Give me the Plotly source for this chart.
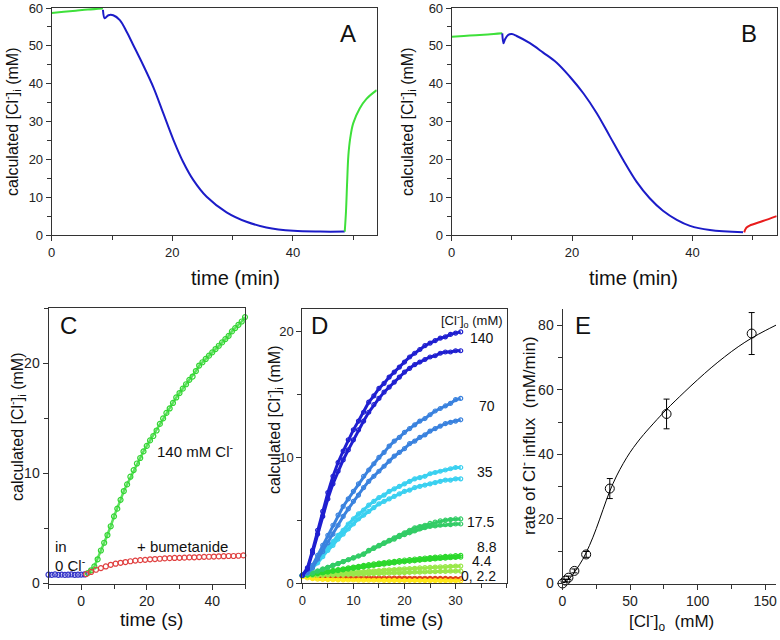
import plotly.graph_objects as go

W, H = 780, 640
FONT = "Liberation Sans, Arial, sans-serif"

# ---------------- Panel A ----------------
a_green1_t = [0, 2, 4, 6, 8.5]
a_green1_y = [58.7, 59.0, 59.3, 59.6, 59.9]
a_blue_t = [8.5, 8.8, 9.4, 10.2, 11.3, 12.5, 13.5, 15.2, 16.9, 18.5, 20.2, 21.8, 23.5, 25.7, 29.0, 32.3, 35.6, 40.1, 44.5, 48.6]
a_blue_y = [59.5, 57.3, 58.1, 58.1, 56.8, 53.5, 50.3, 44.8, 38.9, 32.2, 25.1, 19.3, 14.5, 10.1, 6.0, 3.5, 2.0, 1.1, 0.9, 0.9]
a_green2_t = [48.6, 48.8, 49.0, 49.2, 49.5, 50.0, 51.1, 52.2, 53.9]
a_green2_y = [0.9, 6.0, 14.0, 21.0, 25.5, 29.5, 33.5, 36.0, 38.3]

# ---------------- Panel B ----------------
b_green_t = [0, 2, 4, 6, 8.4]
b_green_y = [52.4, 52.6, 52.8, 53.0, 53.3]
b_blue_t = [8.4, 8.6, 8.85, 9.4, 10.0, 10.8, 13.0, 15.2, 17.4, 19.6, 21.9, 24.1, 26.3, 28.5, 30.7, 32.9, 35.1, 37.4, 39.6, 42.9, 48.4]
b_blue_y = [53.3, 50.7, 51.7, 52.9, 53.1, 52.6, 50.7, 48.2, 45.6, 41.9, 37.4, 32.2, 26.0, 19.8, 14.1, 9.7, 6.4, 4.0, 2.4, 1.3, 0.7]
b_red_t = [48.6, 48.8, 49.0, 49.5, 51.7, 54.0]
b_red_y = [0.7, 1.5, 2.0, 2.5, 3.7, 5.0]

# ---------------- Panel C ----------------
c_blue_t = [-10, -9, -8, -7, -6, -5, -4, -3, -2, -1, 0, 1]
c_blue_y = [0.8, 0.78, 0.82, 0.79, 0.81, 0.78, 0.8, 0.82, 0.79, 0.8, 0.81, 0.82]
c_red_t = [1.5, 3, 4.5, 6, 7.5, 9, 10.5, 12, 13.5, 15, 16.5, 18, 19.5, 21, 22.5, 24, 25.5, 27, 28.5,
           30, 31.5, 33, 34.5, 36, 37.5, 39, 40.5, 42, 43.5, 45, 46.5, 48, 49.5]
c_red_y = [0.85, 1.05, 1.25, 1.4, 1.55, 1.7, 1.8, 1.88, 1.95, 2.02, 2.08, 2.12, 2.15, 2.2, 2.22, 2.25, 2.28,
           2.3, 2.32, 2.33, 2.35, 2.37, 2.38, 2.4, 2.42, 2.43, 2.45, 2.46, 2.48, 2.5, 2.5, 2.52, 2.55]
c_green_t = list(range(2, 51))
c_green_y = [0.95, 1.2, 1.55, 2.2, 3.0, 3.7, 4.4, 5.2, 6.1, 6.8, 7.6, 8.4, 9.0, 9.7, 10.3, 10.9, 11.4, 12.0,
             12.5, 13.0, 13.4, 13.9, 14.5, 15.0, 15.5, 15.9, 16.4, 16.9, 17.3, 17.7, 18.1, 18.5, 18.8, 19.3,
             19.8, 20.1, 20.4, 20.7, 21.0, 21.3, 21.6, 21.9, 22.2, 22.5, 22.9, 23.2, 23.5, 23.8, 24.2]

# ---------------- Panel D ----------------
d_t = list(range(0, 32))
d_140a = [0.6, 1.2, 2.6, 4.2, 5.7, 7.2, 8.5, 9.6, 10.5, 11.4, 12.2, 12.9, 13.6, 14.4, 14.9, 15.5, 15.9, 16.4,
          16.8, 17.2, 17.6, 18.0, 18.3, 18.6, 18.9, 19.1, 19.3, 19.5, 19.6, 19.8, 19.9, 20.0]
d_140b = [0.6, 1.1, 2.4, 3.9, 5.3, 6.7, 7.9, 8.9, 9.8, 10.6, 11.4, 12.2, 12.9, 13.6, 14.2, 14.7, 15.2, 15.6,
          16.0, 16.4, 16.8, 17.1, 17.4, 17.6, 17.8, 18.0, 18.1, 18.3, 18.4, 18.4, 18.5, 18.5]
d_70a = [0.6, 0.9, 1.4, 2.2, 3.0, 3.8, 4.6, 5.4, 6.1, 6.7, 7.3, 7.9, 8.5, 9.0, 9.5, 10.0, 10.4, 10.9, 11.3,
         11.6, 12.0, 12.3, 12.6, 12.9, 13.1, 13.4, 13.7, 13.9, 14.1, 14.3, 14.6, 14.7]
d_70b = [0.6, 0.8, 1.2, 1.9, 2.5, 3.2, 3.9, 4.6, 5.3, 5.9, 6.5, 7.0, 7.6, 8.1, 8.5, 8.9, 9.3, 9.7, 10.1,
         10.4, 10.7, 11.1, 11.3, 11.6, 11.8, 12.1, 12.3, 12.5, 12.7, 12.8, 12.9, 13.0]
d_35a = [0.6, 0.9, 1.3, 1.8, 2.3, 2.8, 3.3, 3.8, 4.2, 4.7, 5.1, 5.5, 5.8, 6.2, 6.5, 6.8, 7.0, 7.3, 7.5,
         7.7, 7.9, 8.1, 8.3, 8.4, 8.5, 8.7, 8.8, 8.9, 9.0, 9.1, 9.2, 9.2]
d_35b = [0.6, 0.8, 1.2, 1.6, 2.1, 2.6, 3.0, 3.5, 3.9, 4.3, 4.7, 5.1, 5.4, 5.7, 6.0, 6.3, 6.5, 6.7, 6.9,
         7.1, 7.3, 7.4, 7.6, 7.7, 7.8, 7.9, 8.0, 8.1, 8.2, 8.2, 8.3, 8.3]
d_17a = [0.6, 0.7, 0.8, 0.95, 1.1, 1.25, 1.4, 1.55, 1.7, 1.85, 2.0, 2.15, 2.3, 2.6, 2.8, 3.0, 3.2, 3.4,
         3.6, 3.8, 4.0, 4.2, 4.4, 4.5, 4.6, 4.75, 4.85, 4.95, 5.0, 5.05, 5.1, 5.1]
d_17b = [0.6, 0.7, 0.8, 0.95, 1.1, 1.25, 1.4, 1.55, 1.7, 1.85, 2.0, 2.15, 2.3, 2.55, 2.75, 2.95, 3.15, 3.35,
         3.5, 3.7, 3.85, 4.0, 4.15, 4.3, 4.4, 4.5, 4.55, 4.6, 4.65, 4.65, 4.7, 4.7]
d_88a = [0.6, 0.65, 0.7, 0.78, 0.85, 0.92, 1.0, 1.07, 1.13, 1.2, 1.27, 1.33, 1.4, 1.46, 1.52, 1.58, 1.63,
         1.68, 1.73, 1.78, 1.83, 1.87, 1.91, 1.95, 1.99, 2.03, 2.06, 2.09, 2.12, 2.15, 2.18, 2.2]
d_88b = [0.6, 0.64, 0.68, 0.74, 0.8, 0.86, 0.93, 0.99, 1.05, 1.11, 1.17, 1.23, 1.29, 1.35, 1.41, 1.46, 1.51,
         1.56, 1.61, 1.65, 1.69, 1.73, 1.77, 1.81, 1.85, 1.88, 1.92, 1.95, 1.98, 2.01, 2.03, 2.05]
d_44a = [0.6, 0.62, 0.64, 0.67, 0.7, 0.72, 0.75, 0.78, 0.8, 0.83, 0.86, 0.88, 0.91, 0.94, 0.97, 0.99, 1.02,
         1.05, 1.07, 1.1, 1.12, 1.15, 1.17, 1.2, 1.22, 1.24, 1.26, 1.28, 1.3, 1.32, 1.34, 1.35]
d_44b = [0.6, 0.6, 0.61, 0.62, 0.63, 0.64, 0.65, 0.66, 0.67, 0.68, 0.69, 0.7, 0.71, 0.72, 0.74, 0.75, 0.77,
         0.78, 0.8, 0.81, 0.83, 0.84, 0.86, 0.87, 0.88, 0.9, 0.91, 0.92, 0.93, 0.94, 0.95, 0.95]
d_22 = [0.5, 0.4, 0.35, 0.3, 0.28, 0.27, 0.26, 0.25, 0.25, 0.24, 0.24, 0.23, 0.23, 0.22, 0.22, 0.22, 0.21,
        0.21, 0.21, 0.2, 0.2, 0.2, 0.2, 0.2, 0.19, 0.19, 0.19, 0.19, 0.19, 0.18, 0.18, 0.18]
d_0 = [0.55, 0.5, 0.48, 0.46, 0.45, 0.44, 0.44, 0.43, 0.43, 0.42, 0.42, 0.42, 0.41, 0.41, 0.4, 0.4, 0.4,
       0.4, 0.39, 0.39, 0.39, 0.38, 0.38, 0.38, 0.38, 0.37, 0.37, 0.37, 0.37, 0.36, 0.36, 0.36]
d_labels = ["140", "70", "35", "17.5", "8.8", "4.4", "0, 2.2"]

# ---------------- Panel E ----------------
e_x = [0, 2.2, 4.4, 8.8, 17.5, 35, 77, 140]
e_y = [0.0, 0.9, 1.8, 3.9, 9.0, 29.4, 52.5, 77.4]
e_err = [0.3, 0.4, 0.5, 0.6, 0.9, 3.1, 4.6, 6.5]
e_fit_x = [0, 5, 10, 15, 20, 25, 30, 35, 40, 45, 50, 55, 60, 70, 77, 90, 100, 110, 120, 130, 140, 150, 158]
e_fit_y = [0, 1.5, 4.2, 7.5, 11.8, 17.0, 22.9, 28.6, 33.3, 37.2, 40.6, 43.5, 46.1, 50.8, 53.9, 59.2, 63.1,
           66.8, 70.2, 73.3, 76.0, 78.3, 80.0]

BLUE = "#1c1cc8"
GREEN = "#3ee03a"
RED = "#e81c1c"
AX = "#333333"

fig = go.Figure()

def add_line(x, y, color, ax, width=2):
    fig.add_trace(go.Scatter(x=x, y=y, mode="lines", line=dict(color=color, width=width, shape="spline", smoothing=1.0),
                             xaxis="x" + ax, yaxis="y" + ax, showlegend=False, hoverinfo="skip"))

# A
add_line(a_green1_t, a_green1_y, GREEN, "")
add_line(a_blue_t, a_blue_y, BLUE, "")
add_line(a_green2_t, a_green2_y, GREEN, "")
# B
add_line(b_green_t, b_green_y, GREEN, "2")
add_line(b_blue_t, b_blue_y, BLUE, "2")
add_line(b_red_t, b_red_y, RED, "2")

def add_markers(x, y, color, ax, size=5, symbol="circle-open", lw=1.2, line_w=0, line_color=None):
    mode = "markers" if line_w == 0 else "lines+markers"
    fig.add_trace(go.Scatter(x=x, y=y, mode=mode,
                             line=dict(color=line_color or color, width=line_w),
                             marker=dict(symbol=symbol, size=size, color=color, line=dict(color=color, width=lw)),
                             xaxis="x" + ax, yaxis="y" + ax, showlegend=False, hoverinfo="skip",
                             cliponaxis=False))

# C
add_markers(c_blue_t, c_blue_y, "#3434c8", "3", size=5)
add_markers(c_green_t, c_green_y, "#33d633", "3", size=5, line_w=2.5, line_color="#5ee05e")
add_markers(c_red_t, c_red_y, "#e04040", "3", size=5)

# D
d_series = [
    (d_140a, "#1f1fd0"), (d_140b, "#1f1fd0"),
    (d_70a, "#3a82de"), (d_70b, "#3a82de"),
    (d_35a, "#3ad0f0"), (d_35b, "#3ad0f0"),
    (d_17a, "#33cc66"), (d_17b, "#33cc66"),
    (d_88a, "#2cd82c"), (d_88b, "#2cd82c"),
    (d_44a, "#9ae84a"), (d_44b, "#9ae84a"),
    (d_22, "#ffe81a"), (d_0, "#e0401a"),
]
for ys, col in d_series[::-1]:
    add_markers(d_t, ys, col, "4", size=4, symbol="circle-open", lw=1.2, line_w=3)

# E
fig.add_trace(go.Scatter(x=e_fit_x, y=e_fit_y, mode="lines", line=dict(color="black", width=1, shape="spline"),
                         xaxis="x5", yaxis="y5", showlegend=False, hoverinfo="skip"))
fig.add_trace(go.Scatter(x=e_x, y=e_y, mode="markers",
                         marker=dict(symbol="circle-open", size=9, color="black", line=dict(color="black", width=1)),
                         error_y=dict(type="data", array=e_err, color="black", thickness=1, width=3),
                         xaxis="x5", yaxis="y5", showlegend=False, hoverinfo="skip", cliponaxis=False))

def px(x):
    return x / W

def py(y):
    return 1 - y / H

def axis(domain, rng, tickvals, minor_dtick, anchor, mirror=True, fs=13):
    return dict(domain=domain, range=rng, tickvals=tickvals, ticks="outside", ticklen=5,
                tickwidth=1, tickcolor=AX, showline=True, linecolor=AX, linewidth=1, mirror=mirror,
                showgrid=False, zeroline=False, anchor=anchor, automargin=False, fixedrange=True,
                tickfont=dict(family=FONT, size=fs, color="#222"),
                minor=dict(ticks="outside", ticklen=4, tickcolor=AX, dtick=minor_dtick, showgrid=False))

layout = dict(
    width=W, height=H, margin=dict(l=0, r=0, t=0, b=0, autoexpand=False),
    plot_bgcolor="white", paper_bgcolor="white",
    font=dict(family=FONT, color="#111"),
    xaxis=axis([px(51.7), px(376.7)], [0, 53.9], [0, 20, 40], 10, "y"),
    yaxis=axis([py(235), py(8)], [0, 60], [0, 10, 20, 30, 40, 50, 60], 5, "x"),
    xaxis2=axis([px(451.7), px(776.7)], [0, 54], [0, 20, 40], 10, "y2"),
    yaxis2=axis([py(235), py(8)], [0, 60], [0, 10, 20, 30, 40, 50, 60], 5, "x2"),
    xaxis3=axis([px(48.5), px(245)], [-10, 50], [0, 20, 40], 10, "y3", fs=14),
    yaxis3=axis([py(583.5), py(308.3)], [0, 25], [0, 10, 20], 5, "x3", fs=14),
    xaxis4=axis([px(302.3), px(506.7)], [0, 40], [0, 10, 20, 30], 5, "y4"),
    yaxis4=axis([py(583), py(309.3)], [0, 21.8], [0, 10, 20], 5, "x4"),
    xaxis5=axis([px(562.5), px(776)], [0, 158], [0, 50, 100, 150], 25, "y5", mirror=False, fs=14),
    yaxis5=axis([py(583.5), py(309)], [0, 85], [0, 20, 40, 60, 80], 10, "x5", mirror=False, fs=14),
)
fig.update_layout(**layout)

ann = []
def text(x, y, s, size, angle=0, xanchor="center"):
    ann.append(dict(x=px(x), y=py(y), xref="paper", yref="paper", text=s, showarrow=False, textangle=angle,
                    xanchor=xanchor, yanchor="middle", font=dict(family=FONT, size=size, color="#111")))

YLAB = "calculated [Cl<sup>-</sup>]<sub>i</sub> (mM)"
# axis titles
text(236, 278, "time (min)", 20)
text(633, 278, "time (min)", 20)
text(12, 122, YLAB, 16, -90)
text(407, 122, YLAB, 16, -90)
text(151.7, 619, "time (s)", 19)
text(17, 427, YLAB, 16, -90)
text(411.7, 619, "time (s)", 19)
text(274, 420, YLAB, 16, -90)
text(671.7, 621, "[Cl<sup>-</sup>]<sub>o</sub>  (mM)", 17)
text(528, 436, "rate of Cl<sup>-</sup> influx  (mM/min)", 17, -90)
# panel letters
text(348, 34, "A", 24)
text(749, 34, "B", 24)
text(68, 325, "C", 24)
text(319, 325, "D", 24)
text(583, 325, "E", 24)
# panel C notes
text(53, 546, "in", 15, xanchor="left")
text(53, 564, "0 Cl<sup>-</sup>", 15, xanchor="left")
text(135, 546, "+ bumetanide", 15, xanchor="left")
text(155, 450, "140 mM Cl<sup>-</sup>", 15, xanchor="left")
# panel D labels
text(472, 321, "[Cl<sup>-</sup>]<sub>o</sub> (mM)", 13)
d_label_x = [482, 487, 485, 480, 487, 482, 478]
d_label_py = [338, 406, 472, 522, 547, 561, 576]
for lx, ly, lab in zip(d_label_x, d_label_py, d_labels):
    text(lx, ly, lab, 14)

fig.update_layout(annotations=ann)
fig.write_html("out.html", config={"displayModeBar": False, "staticPlot": True},
               post_script="document.body.style.margin='0';document.body.style.overflow='hidden';")
